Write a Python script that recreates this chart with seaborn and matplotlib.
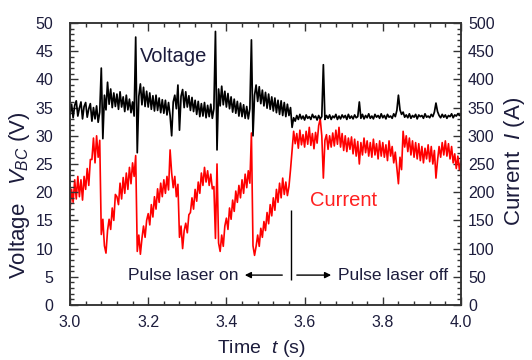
import numpy as np
import pandas as pd
import matplotlib
matplotlib.use("Agg")
import matplotlib.pyplot as plt
from matplotlib.ticker import MultipleLocator
import seaborn as sns

# sampling times (s), 4 ms spacing from 3.0 s to 4.0 s
time_s = np.round(np.linspace(3.0, 4.0, 251), 3)

# Voltage V_BC (V)
voltage = [
    33.8, 35.6, 33.2, 35.4, 36.2, 33.5, 34.9, 36.0, 33.0, 35.2,
    35.9, 33.3, 34.8, 35.7, 32.6, 35.0, 33.0, 35.3, 32.4, 34.2,
    42.0, 29.5, 37.2, 34.6, 39.5, 35.6, 38.3, 35.0, 37.6, 35.2,
    37.4, 34.7, 37.8, 35.1, 36.9, 34.3, 37.2, 34.6, 36.5, 34.1,
    36.0, 33.5, 47.5, 27.0, 37.0, 39.2, 35.5, 38.6, 35.2, 37.9,
    35.1, 37.6, 34.7, 37.1, 34.4, 37.2, 34.5, 36.7, 34.1, 36.4,
    34.0, 36.3, 33.7, 35.9, 33.6, 30.0, 36.0, 37.2, 34.8, 39.0,
    31.0, 37.0, 38.2, 35.0, 37.8, 35.1, 37.1, 34.5, 36.8, 34.3,
    36.3, 33.8, 36.1, 33.4, 35.7, 33.5, 35.9, 33.2, 35.4, 33.4,
    35.6, 33.1, 34.8, 48.5, 27.5, 38.3, 35.3, 38.8, 35.5, 37.9,
    35.1, 37.5, 34.8, 36.9, 34.2, 36.5, 34.0, 36.1, 33.5, 35.8,
    33.4, 35.5, 33.1, 35.2, 33.0, 34.8, 47.0, 30.0, 37.2, 39.0,
    36.1, 38.7, 35.7, 38.1, 35.3, 37.7, 34.9, 37.4, 34.7, 36.9,
    34.4, 36.7, 34.1, 36.3, 33.8, 36.2, 33.6, 35.9, 33.4, 35.6,
    33.6, 35.0, 31.5, 33.2, 32.6, 33.6, 32.9, 33.8, 33.0, 33.5,
    32.8, 33.7, 33.1, 33.4, 32.9, 33.8, 33.2, 33.5, 32.8, 33.6,
    33.0, 33.4, 42.6, 32.9, 33.6, 33.1, 33.7, 32.9, 33.5, 33.2,
    33.8, 32.9, 33.5, 33.0, 33.7, 33.2, 33.6, 32.9, 33.8, 33.1,
    33.5, 33.0, 33.7, 33.2, 33.4, 36.0, 33.1, 33.8, 33.0, 33.6,
    33.2, 33.9, 33.1, 33.5, 33.0, 33.8, 33.3, 33.6, 33.1, 33.9,
    33.2, 33.6, 33.0, 33.8, 33.3, 33.5, 33.1, 33.9, 33.4, 34.5,
    37.2, 34.6, 33.8, 34.2, 33.3, 33.7, 33.2, 33.9, 33.1, 33.6,
    33.3, 33.8, 33.0, 33.7, 33.4, 33.6, 33.1, 33.9, 33.3, 33.5,
    33.2, 33.8, 33.4, 34.2, 35.8, 34.3, 33.6, 33.2, 33.8, 33.3,
    33.7, 33.1, 33.6, 33.4, 33.9, 33.2, 33.7, 33.5, 33.9, 33.6,
    33.8,
]

# Current I (A)
current = [
    168, 205, 182, 222, 188, 228, 192, 222, 186, 228,
    205, 242, 212, 258, 258, 296, 252, 300, 262, 292,
    125, 152, 105, 92, 132, 152, 134, 172, 150, 196,
    192, 178, 216, 188, 226, 198, 234, 205, 244, 215,
    252, 228, 265, 95, 124, 90, 118, 140, 120, 150,
    162, 142, 178, 156, 192, 170, 206, 182, 216, 192,
    222, 198, 228, 204, 275, 234, 208, 228, 192, 214,
    120, 140, 100, 132, 145, 128, 160, 164, 190, 170,
    205, 184, 218, 198, 234, 212, 244, 218, 238, 212,
    232, 206, 210, 118, 250, 110, 95, 124, 104, 140,
    154, 134, 172, 152, 186, 166, 202, 182, 212, 190,
    222, 198, 232, 208, 238, 216, 305, 105, 88, 104,
    124, 104, 136, 120, 148, 132, 164, 144, 178, 158,
    190, 168, 205, 182, 216, 190, 225, 196, 218, 194,
    210, 240, 275, 308, 286, 304, 278, 310, 284, 302,
    280, 308, 285, 315, 283, 304, 277, 306, 287, 318,
    330, 300, 225, 292, 302, 276, 300, 280, 305, 282,
    310, 285, 315, 280, 304, 274, 300, 272, 296, 276,
    298, 268, 294, 264, 290, 250, 288, 266, 296, 270,
    291, 264, 288, 262, 294, 266, 286, 259, 291, 264,
    288, 262, 284, 256, 291, 264, 281, 252, 271, 242,
    215, 262, 240, 308, 280, 300, 272, 296, 266, 291,
    262, 288, 259, 286, 256, 281, 252, 278, 259, 284,
    254, 281, 250, 274, 225, 256, 281, 262, 288, 266,
    291, 264, 286, 259, 281, 252, 268, 242, 264, 240,
    255,
]

x_ticks = [3.0, 3.2, 3.4, 3.6, 3.8, 4.0]
v_ticks = list(range(0, 51, 5))
i_ticks = list(range(0, 501, 50))

df = pd.DataFrame({"t": time_s, "V": voltage, "I": current})

sns.set_theme(style="ticks")
plt.rcParams["font.family"] = ["Liberation Sans", "DejaVu Sans"]
plt.rcParams["mathtext.fontset"] = "custom"
plt.rcParams["mathtext.it"] = "Liberation Sans:italic"
plt.rcParams["mathtext.rm"] = "Liberation Sans"

txt = "#1c1c3c"
fig = plt.figure(figsize=(5.32, 3.60), dpi=100)
ax = fig.add_axes([0.1316, 0.1528, 0.7349, 0.7833])
ax2 = ax.twinx()

sns.lineplot(data=df, x="t", y="V", ax=ax, color="black", lw=1.25,
             estimator=None, sort=False)
sns.lineplot(data=df, x="t", y="I", ax=ax2, color="#ff0000", lw=1.2,
             estimator=None, sort=False)

ax.set_xlim(3.0, 4.0)
ax.set_ylim(0, 50)
ax2.set_ylim(0, 500)
ax.set_xticks(x_ticks)
ax.set_xticklabels([f"{v:.1f}" for v in x_ticks])
ax.set_yticks(v_ticks)
ax2.set_yticks(i_ticks)
ax.xaxis.set_minor_locator(MultipleLocator(0.04))
ax.yaxis.set_minor_locator(MultipleLocator(1))
ax2.yaxis.set_minor_locator(MultipleLocator(10))

for a in (ax, ax2):
    a.tick_params(which="both", direction="in", colors="#333333",
                  labelcolor=txt, labelsize=11.5, width=1.0)
    a.tick_params(which="major", length=6)
    a.tick_params(which="minor", length=3)
    for s in a.spines.values():
        s.set_visible(True)
        s.set_linewidth(1.1)
        s.set_color("#333333")
ax.tick_params(axis="x", which="both", top=True, pad=7)
ax.tick_params(axis="y", which="both", right=False, pad=12)
ax2.tick_params(axis="y", which="both", pad=5)

ax.set_xlabel("Time  $t$ (s)", fontsize=14, color=txt)
ax.set_ylabel("Voltage   $V_{BC}$ (V)", fontsize=16, color=txt)
ax2.set_ylabel("Current  $I$ (A)", fontsize=16, color=txt)
ax.xaxis.set_label_coords(0.49, -0.118)
ax.yaxis.set_label_coords(-0.097, 0.39)
ax2.yaxis.set_label_coords(1.105, 0.51)

ax.text(3.179, 44.1, "Voltage", fontsize=14.5, color=txt, ha="left", va="center")
ax.text(3.614, 18.6, "Current", fontsize=14.5, color="#ff2020", ha="left", va="center")
ax.text(3.432, 5.3, "Pulse laser on", fontsize=12.5, color=txt, ha="right", va="center")
ax.text(3.686, 5.3, "Pulse laser off", fontsize=12.5, color=txt, ha="left", va="center")
ax.annotate("", xy=(3.44, 5.3), xytext=(3.55, 5.3),
            arrowprops=dict(arrowstyle="-|>", color="black", lw=1.0, mutation_scale=9))
ax.annotate("", xy=(3.675, 5.3), xytext=(3.573, 5.3),
            arrowprops=dict(arrowstyle="-|>", color="black", lw=1.0, mutation_scale=9))
ax.vlines(3.565, 4.4, 16.8, color="black", lw=1.0)

ax.set_zorder(ax2.get_zorder() + 1)
ax.patch.set_visible(False)

fig.savefig("out.png", dpi=100)
